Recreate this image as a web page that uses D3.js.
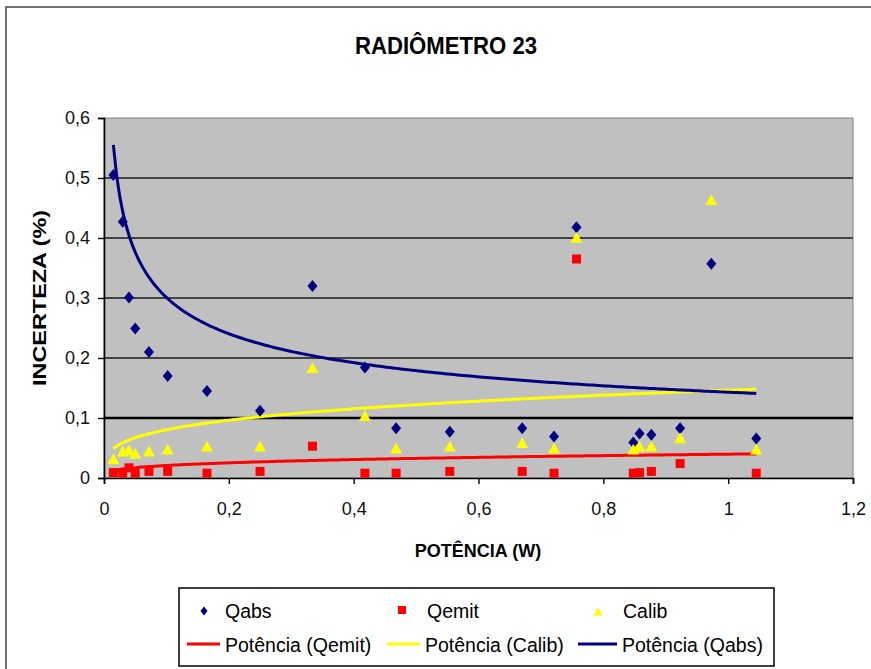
<!DOCTYPE html>
<html>
<head>
<meta charset="utf-8">
<script src="https://cdn.jsdelivr.net/npm/d3@7"></script>
<style>
  html, body { margin: 0; padding: 0; background: #fff; }
  svg { display: block; font-family: "Liberation Sans", Arial, sans-serif; }
</style>
</head>
<body>
<svg id="chart" width="871" height="669"></svg>
<script>
// ---- data ----
const power = [0.015,0.030,0.040,0.050,0.072,0.102,0.165,0.250,0.334,0.418,0.468,0.554,0.670,0.721,0.757,0.848,0.858,0.877,0.923,0.973,1.045];
const qabs  = [0.505,0.427,0.301,0.249,0.210,0.170,0.145,0.112,0.320,0.184,0.083,0.077,0.083,0.069,0.418,0.059,0.074,0.072,0.083,0.357,0.066];
const qemit = [0.009,0.008,0.017,0.008,0.011,0.011,0.008,0.011,0.053,0.008,0.008,0.011,0.011,0.008,0.365,0.008,0.009,0.011,0.024,null,0.008];
const calib = [0.031,0.044,0.046,0.040,0.044,0.047,0.052,0.052,0.183,0.103,0.049,0.052,0.058,0.049,0.400,0.047,0.052,0.052,0.066,0.463,0.047];

// power trendlines y = a * x^b (coefficients)
const trendNames = ["Potência (Qemit)", "Potência (Calib)", "Potência (Qabs)"];
const trendA = [0.0397, 0.1463, 0.143];
const trendB = [0.28, 0.26, -0.323];

const xTicks = [0, 0.2, 0.4, 0.6, 0.8, 1, 1.2];
const yTicks = [0, 0.1, 0.2, 0.3, 0.4, 0.5, 0.6];

const title = "RADIÔMETRO 23";
const xTitle = "POTÊNCIA (W)";
const yTitle = "INCERTEZA (%)";

// ---- layout ----
const svg = d3.select("#chart");
const L = 104, T = 118, R = 853, B = 478;
const x = d3.scaleLinear().domain([0, 1.2]).range([L, R]);
const y = d3.scaleLinear().domain([0, 0.6]).range([B, T]);
const fmt = d => String(d).replace(".", ",");

const NAVY = "#000080", RED = "#ff0000", YEL = "#ffff00";

// outer frame
svg.append("rect").attr("x", 6).attr("y", 7).attr("width", 900).attr("height", 700)
  .attr("fill", "#fff").attr("stroke", "#444").attr("stroke-width", 1.5);

// title
svg.append("text").attr("x", 446).attr("y", 54).attr("text-anchor", "middle")
  .attr("font-weight", "bold").attr("font-size", 24)
  .attr("textLength", 182).attr("lengthAdjust", "spacingAndGlyphs")
  .text(title);

// plot background
svg.append("rect").attr("x", L).attr("y", T).attr("width", R - L).attr("height", B - T)
  .attr("fill", "#c0c0c0").attr("stroke", "#808080").attr("stroke-width", 1);

// gridlines
svg.append("g").selectAll("line").data(yTicks.filter(v => v > 0 && v < 0.6)).join("line")
  .attr("x1", L).attr("x2", R).attr("y1", d => y(d)).attr("y2", d => y(d))
  .attr("stroke", d => Math.abs(d - 0.1) < 1e-9 ? "#000" : "#1a1a1a")
  .attr("stroke-width", d => Math.abs(d - 0.1) < 1e-9 ? 2.5 : 1.4);

// axes
const yAxis = svg.append("g").attr("transform", `translate(${L},0)`)
  .call(d3.axisLeft(y).tickValues(yTicks).tickFormat(fmt).tickSize(6).tickPadding(6));
const xAxis = svg.append("g").attr("transform", `translate(0,${B})`)
  .call(d3.axisBottom(x).tickValues(xTicks).tickFormat(fmt).tickSize(6).tickPadding(18));
[yAxis, xAxis].forEach(g => {
  g.select(".domain").attr("stroke", "#000").attr("stroke-width", 1.6);
  g.selectAll(".tick line").attr("stroke", "#000").attr("stroke-width", 1.4);
  g.selectAll(".tick text").attr("font-family", "Liberation Sans, Arial, sans-serif")
    .attr("font-size", 18).attr("fill", "#111");
});
yAxis.selectAll(".tick text").attr("dx", -2);

// axis titles
svg.append("text").attr("x", 478).attr("y", 557).attr("text-anchor", "middle")
  .attr("font-weight", "bold").attr("font-size", 18).text(xTitle);
svg.append("text").attr("transform", "translate(46,298) rotate(-90)").attr("text-anchor", "middle")
  .attr("font-weight", "bold").attr("font-size", 19)
  .attr("textLength", 176).attr("lengthAdjust", "spacingAndGlyphs")
  .text(yTitle);

// trendlines
const xmin = d3.min(power), xmax = d3.max(power);
const trendColors = [RED, YEL, NAVY];
const line = d3.line().x(d => x(d[0])).y(d => y(d[1]));
trendA.forEach((a, i) => {
  const pts = d3.range(0, 201).map(k => {
    const xv = xmin + (xmax - xmin) * k / 200;
    return [xv, a * Math.pow(xv, trendB[i])];
  });
  svg.append("path").datum(pts).attr("d", line).attr("fill", "none")
    .attr("stroke", trendColors[i]).attr("stroke-width", 3);
});

// markers
const diamond = (cx, cy, w, h) => `M${cx},${cy - h}L${cx + w},${cy}L${cx},${cy + h}L${cx - w},${cy}Z`;
const tri = (cx, cy, s) => `M${cx},${cy - s}L${cx + s},${cy + s * 0.8}L${cx - s},${cy + s * 0.8}Z`;

svg.append("g").selectAll("path").data(power.map((p, i) => [p, qabs[i]])).join("path")
  .attr("d", d => diamond(x(d[0]), y(d[1]), 5, 6)).attr("fill", NAVY);

svg.append("g").selectAll("rect").data(power.map((p, i) => [p, qemit[i]]).filter(d => d[1] != null)).join("rect")
  .attr("x", d => x(d[0]) - 4.5).attr("y", d => y(d[1]) - 4.5).attr("width", 9).attr("height", 9)
  .attr("fill", RED);

svg.append("g").selectAll("path").data(power.map((p, i) => [p, calib[i]])).join("path")
  .attr("d", d => tri(x(d[0]), y(d[1]), 6)).attr("fill", YEL);

// legend
const lg = svg.append("g");
lg.append("rect").attr("x", 179).attr("y", 588).attr("width", 595).attr("height", 78)
  .attr("fill", "#fff").attr("stroke", "#000").attr("stroke-width", 1.5);
const ls = 19.5;
lg.append("path").attr("d", diamond(204, 611, 3.5, 4.5)).attr("fill", NAVY);
lg.append("text").attr("x", 225).attr("y", 618).attr("font-size", ls).text("Qabs");
lg.append("rect").attr("x", 398).attr("y", 606).attr("width", 8).attr("height", 8).attr("fill", RED);
lg.append("text").attr("x", 427).attr("y", 618).attr("font-size", ls).text("Qemit");
lg.append("path").attr("d", tri(598, 612, 4.5)).attr("fill", YEL);
lg.append("text").attr("x", 623).attr("y", 618).attr("font-size", ls).text("Calib");

const lineItems = [[187, 220, 225], [387, 420, 425], [578, 617, 622]];
lineItems.forEach((li, i) => {
  lg.append("line").attr("x1", li[0]).attr("x2", li[1]).attr("y1", 644).attr("y2", 644)
    .attr("stroke", trendColors[i]).attr("stroke-width", 3);
  lg.append("text").attr("x", li[2]).attr("y", 652).attr("font-size", ls).text(trendNames[i]);
});
</script>
</body>
</html>
